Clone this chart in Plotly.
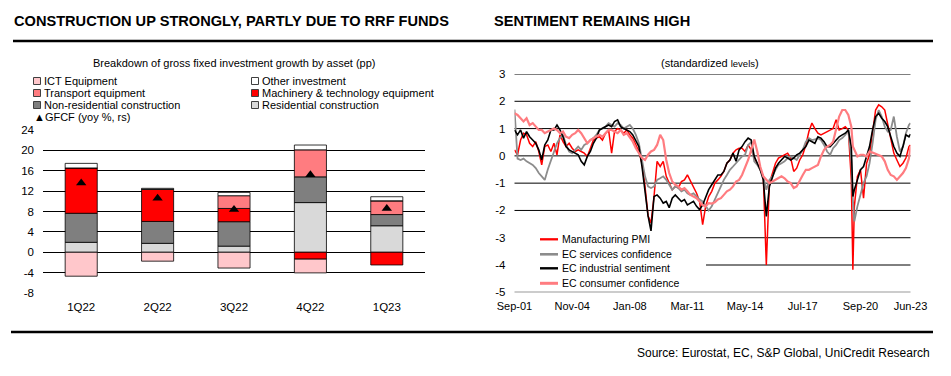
import pandas as pd
import plotly.graph_objects as go

W, H = 951, 376
FONT = "Liberation Sans, Arial, sans-serif"

# ---------------- Left chart data (pp contributions) ----------------
quarters = ["1Q22", "2Q22", "3Q22", "4Q22", "1Q23"]
residential = [1.95, 1.75, 1.2, 9.75, 5.2]
non_residential = [5.7, 4.3, 4.8, 5.05, 2.2]
machinery = [8.9, 6.3, 2.6, -1.35, -2.5]
transport = [0.0, 0.0, 2.5, 5.3, 2.7]
ict = [-4.7, -1.75, -3.1, -2.7, 0.0]
other_investment = [0.9, 0.2, 0.65, 0.95, 0.8]
gfcf_yoy = [13.6, 10.6, 8.4, 15.2, 8.6]
left_yticks = [-8, -4, 0, 4, 8, 12, 16, 20, 24]

# ---------------- Right chart data (standardized levels) ----------------
dates = (list(pd.date_range("2001-09-01", "2020-03-01", freq="2MS"))
         + [pd.Timestamp("2020-04-01")]
         + list(pd.date_range("2020-05-01", "2023-05-01", freq="2MS"))
         + [pd.Timestamp("2023-06-01")])

manufacturing_pmi = [
    0.22, 0.04, 0.58, 0.83, 0.77, 0.46,
    0.34, 0.52, 0.16, -0.33, 0.34, 0.40,
    0.16, 0.46, 0.04, 0.77, 0.52, 0.34,
    0.46, 0.28, 0.16, 0.22, 0.16, 0.10,
    -0.02, 0.28, 0.58, 0.65, 0.70, 0.58,
    0.83, 0.95, 0.10, 0.90, 1.00, 0.95,
    0.83, 0.95, 0.77, 0.65, 0.40, 0.16,
    -0.27, -1.12, -2.20, -2.46, -1.49, -0.20,
    -0.39, -0.20, -0.75, -1.00, -1.24, -1.12,
    -1.18, -0.94, -0.88, -0.70, -0.94, -1.12,
    -1.37, -1.67, -2.52, -1.85, -1.49, -1.30,
    -1.00, -0.88, -0.75, -0.57, -0.27, -0.15,
    0.10, 0.22, 0.28, 0.28, 0.16, 0.40,
    0.22, -0.06, -0.27, -0.51, -0.75, -4.00,
    -1.00, -0.63, -0.27, -0.08, -0.02, 0.04,
    0.10, -0.08, -0.57, -0.45, -0.15, 0.04,
    0.40, 0.89, 1.20, 1.00, 0.83, 0.77,
    0.83, 0.89, 0.95, 1.00, 1.32, 0.95,
    1.00, 1.07, 0.95,
    -0.88, -4.17,
    -1.85, -0.75, -0.51, -1.55, -0.27, 0.04, 0.95, 1.68, 1.87, 1.80,
    1.68, 1.20, 0.65, 0.10, -0.15, -0.39, -0.27, -0.08, 0.34,
    0.40,
]
ec_services = [
    1.70, -0.10, -0.15, -0.10, -0.20, -0.27,
    -0.33, -0.45, -0.63, -0.75, -0.88, -0.50,
    -0.20, 0.16, 0.46, 0.65, 0.77, 0.40,
    0.16, 0.10, 0.22, 0.34, 0.22, 0.40,
    0.46, 0.58, 0.65, 0.77, 0.95, 1.00,
    1.07, 1.20, 1.13, 1.07, 1.20, 1.13,
    1.00, 1.07, 1.13, 1.00, 0.77, 0.46,
    -0.15, -0.75, -1.12, -1.18, -1.12, -0.88,
    -0.82, -0.75, -0.88, -1.06, -1.24, -1.12,
    -1.18, -1.30, -1.24, -1.37, -1.43, -1.37,
    -1.49, -1.60, -1.67, -1.85, -2.00, -1.85,
    -1.60, -1.37, -1.12, -0.88, -0.70, -0.51,
    -0.39, -0.27, -0.15, -0.02, 0.04, 0.40,
    0.50, -0.20, -0.33, -0.51, -0.75, -1.24,
    -0.88, -0.75, -0.51, -0.33, -0.27, -0.20,
    -0.08, -0.02, -0.08, -0.15, 0.04, 0.22,
    0.52, 0.65, 0.58, 0.60, 0.65, 0.58,
    0.40, 0.16, 0.04, 0.28, 0.40, 0.58,
    0.65, 0.77, 0.95,
    -0.15, -1.60,
    -2.40, -1.85, -1.37, -1.00, -0.75, -0.27, 0.46, 1.32, 1.68, 1.44,
    1.07, 0.89, 0.95, 1.44, 0.70, 0.16, 0.34, 0.83, 1.13,
    1.20,
]
ec_industrial = [
    0.95, 0.77, 0.95, 0.65, 0.89, 0.70,
    0.58, 0.46, 0.22, -0.15, 0.40, 0.58,
    0.95, 0.95, 1.13, 0.95, 0.70, 0.34,
    0.22, 0.16, 0.10, 0.04, -0.20, -0.33,
    -0.02, 0.16, 0.46, 0.65, 0.95, 1.00,
    1.07, 1.13, 1.07, 1.26, 1.32, 1.07,
    1.00, 0.95, 0.89, 0.77, 0.58, 0.34,
    -0.39, -1.37, -2.20, -2.75, -1.49, -1.43,
    -1.55, -1.73, -1.67, -1.90, -1.55, -1.43,
    -1.55, -1.67, -1.60, -1.80, -1.73, -1.67,
    -1.85, -1.97, -1.80, -1.49, -1.24, -1.06,
    -0.88, -0.70, -0.70, -0.57, -0.27, -0.15,
    0.10, -0.20, 0.22, 0.34, 0.52, 0.65,
    0.58, -0.02, -0.27, -0.51, -0.88, -2.22,
    -1.12, -0.75, -0.45, -0.27, -0.15, -0.02,
    -0.08, -0.15, -0.08, 0.04, 0.10, 0.22,
    0.34, 0.58, 0.52, 0.46, 0.70, 0.65,
    0.52, 0.34, 0.34, 0.46, 0.58, 0.70,
    0.77, 0.83, 0.95,
    0.34, -1.49,
    -1.24, -0.88, -0.51, -0.39, -0.02, 0.34, 0.95, 1.44, 1.56, 1.38,
    1.26, 1.07, 0.70, 0.34, 0.10, -0.02, 0.34, 0.77, 0.70,
    0.80,
]
ec_consumer = [
    1.56, 1.50, 1.38, 1.26, 1.38, 1.13,
    1.20, 1.07, 0.95, 0.95, 0.83, 0.89,
    0.95, 1.00, 0.95, 0.83, 0.89, 0.70,
    0.65, 0.77, 0.83, 0.95, 0.83, 0.65,
    0.46, 0.58, 0.65, 0.70, 0.77, 0.70,
    0.83, 0.95, 0.95, 0.89, 0.83, 0.95,
    0.77, 0.83, 0.65, 0.52, 0.28, 0.10,
    -0.08, -0.15, 0.04, 0.16, 0.22, 0.40,
    0.77, 0.58, -0.15, -0.63, -0.94, -1.06,
    -1.12, -1.24, -1.18, -1.30, -1.43, -1.49,
    -1.55, -1.67, -1.80, -1.85, -1.73, -1.75,
    -1.70, -1.60, -1.55, -1.43, -1.30, -1.24,
    -1.12, -0.94, -0.88, -0.70, -0.45, -0.15,
    0.22, 0.60, 0.16, -0.39, -0.75, -0.88,
    -1.00, -0.94, -0.88, -0.82, -0.75, -0.82,
    -0.94, -1.00, -1.18, -1.12, -0.88, -0.70,
    -0.51, -0.51, -0.45, -0.39, -0.33, -0.02,
    0.22, 0.34, 0.40, 0.52, 0.95, 1.44,
    1.68, 1.68, 1.50,
    1.07, 0.34,
    0.22, -0.02, 0.04, 0.04, -0.02, 0.16, 0.12, 0.07, 0.04, -0.02,
    -0.20, -0.51, -0.70, -0.75, -0.88, -0.75, -0.63, -0.45, -0.10,
    0.35,
]
right_yticks = [-5, -4, -3, -2, -1, 0, 1, 2, 3]
right_tick_dates = ["2001-09-01", "2004-11-01", "2008-01-01", "2011-03-01",
                    "2014-05-01", "2017-07-01", "2020-09-01", "2023-06-01"]
right_tick_labels = ["Sep-01", "Nov-04", "Jan-08", "Mar-11",
                     "May-14", "Jul-17", "Sep-20", "Jun-23"]

# ---------------- colours ----------------
C_ICT = "#FFC7CB"
C_OTHER = "#FFFFFF"
C_TRANSPORT = "#FF7C80"
C_MACHINERY = "#FF0000"
C_NONRES = "#7F7F7F"
C_RESID = "#D9D9D9"


def px(x):
    return x / W


def py(y):
    return 1 - y / H


fig = go.Figure()

bar_series = [
    ("Residential construction", residential, C_RESID),
    ("Non-residential construction", non_residential, C_NONRES),
    ("Machinery & technology equipment", machinery, C_MACHINERY),
    ("Transport equipment", transport, C_TRANSPORT),
    ("ICT Equipment", ict, C_ICT),
    ("Other investment", other_investment, C_OTHER),
]
for name, vals, col in bar_series:
    fig.add_trace(go.Bar(
        x=quarters, y=vals, name=name, width=0.42,
        marker=dict(color=col, line=dict(color="black", width=0.8)),
        xaxis="x", yaxis="y", showlegend=False, hoverinfo="skip"))

fig.add_trace(go.Scatter(
    x=quarters, y=gfcf_yoy, mode="markers", name="GFCF (yoy %, rs)",
    marker=dict(symbol="triangle-up", size=9, color="black"),
    xaxis="x", yaxis="y", showlegend=False, hoverinfo="skip"))

line_series = [
    ("Manufacturing PMI", manufacturing_pmi, "#FF0000", 1.5),
    ("EC services confidence", ec_services, "#8C8C8C", 1.8),
    ("EC industrial sentiment", ec_industrial, "#000000", 1.6),
    ("EC consumer confidence", ec_consumer, "#FF7C80", 2.2),
]
for name, vals, col, wdt in line_series:
    fig.add_trace(go.Scatter(
        x=dates, y=vals, mode="lines", name=name,
        line=dict(color=col, width=wdt),
        xaxis="x2", yaxis="y2", showlegend=False, hoverinfo="skip"))

shapes = []
annotations = []

# right chart horizontal grid (the legend box hides the -3 and -4 lines on its left part)
LEGEND_BOX_RIGHT = (706 - 514.5) / 396
for v in right_yticks:
    x0 = LEGEND_BOX_RIGHT if v in (-3, -4) else 0
    shapes.append(dict(type="line", xref="x2 domain", yref="y2",
                       x0=x0, x1=1, y0=v, y1=v,
                       line=dict(color="black", width=1), layer="below"))

# header / footer rules
shapes.append(dict(type="line", xref="paper", yref="paper",
                   x0=px(13), x1=px(933), y0=py(41), y1=py(41),
                   line=dict(color="black", width=2.5)))
shapes.append(dict(type="line", xref="paper", yref="paper",
                   x0=px(11), x1=px(933), y0=py(332), y1=py(332),
                   line=dict(color="black", width=2.5)))

annotations.append(dict(text="<b>CONSTRUCTION UP STRONGLY, PARTLY DUE TO RRF FUNDS</b>",
                        x=px(12), y=py(21), xref="paper", yref="paper",
                        xanchor="left", yanchor="middle", showarrow=False,
                        font=dict(family=FONT, size=14.6, color="black")))
annotations.append(dict(text="<b>SENTIMENT REMAINS HIGH</b>",
                        x=px(492), y=py(21), xref="paper", yref="paper",
                        xanchor="left", yanchor="middle", showarrow=False,
                        font=dict(family=FONT, size=14.6, color="black")))
annotations.append(dict(text="Source: Eurostat, EC, S&P Global, UniCredit Research",
                        x=px(932), y=py(353), xref="paper", yref="paper",
                        xanchor="right", yanchor="middle", showarrow=False,
                        font=dict(family=FONT, size=12, color="black")))
annotations.append(dict(text="Breakdown of gross fixed investment growth by asset (pp)",
                        x=px(234), y=py(63), xref="paper", yref="paper",
                        xanchor="center", yanchor="middle", showarrow=False,
                        font=dict(family=FONT, size=11, color="black")))
annotations.append(dict(text="(standardized <span style='font-size:9.5px'>levels</span>)",
                        x=px(710), y=py(63), xref="paper", yref="paper",
                        xanchor="center", yanchor="middle", showarrow=False,
                        font=dict(family=FONT, size=11, color="black")))

# left legend (manual, two columns)
left_legend = [
    ("ICT Equipment", C_ICT, 37, 81),
    ("Other investment", C_OTHER, 255, 81),
    ("Transport equipment", C_TRANSPORT, 37, 93),
    ("Machinery & technology equipment", C_MACHINERY, 255, 93),
    ("Non-residential construction", C_NONRES, 37, 105),
    ("Residential construction", C_RESID, 255, 105),
]
for label, col, cx, cy in left_legend:
    shapes.append(dict(type="rect", xref="paper", yref="paper",
                       x0=px(cx - 3.5), x1=px(cx + 3.5), y0=py(cy + 3.5), y1=py(cy - 3.5),
                       fillcolor=col, line=dict(color="#404040", width=1)))
    annotations.append(dict(text=label, x=px(cx + 5), y=py(cy), xref="paper", yref="paper",
                            xanchor="left", yanchor="middle", showarrow=False,
                            font=dict(family=FONT, size=11, color="black")))
annotations.append(dict(text="▲GFCF (yoy %, rs)", x=px(32), y=py(117), xref="paper", yref="paper",
                        xanchor="left", yanchor="middle", showarrow=False,
                        font=dict(family=FONT, size=11, color="black")))

# right legend (manual)
right_rows = [239.3, 254.3, 268.3, 283.3]
for (name, vals, col, wdt), ry in zip(line_series, right_rows):
    shapes.append(dict(type="line", xref="paper", yref="paper",
                       x0=px(540), x1=px(558), y0=py(ry), y1=py(ry),
                       line=dict(color=col, width=wdt + 0.8)))
    annotations.append(dict(text=name, x=px(560), y=py(ry), xref="paper", yref="paper",
                            xanchor="left", yanchor="middle", showarrow=False,
                            font=dict(family=FONT, size=10.5, color="black")))

fig.update_layout(
    width=W, height=H, autosize=False,
    margin=dict(l=0, r=0, t=0, b=0, pad=0, autoexpand=False),
    paper_bgcolor="white", plot_bgcolor="white",
    barmode="relative",
    showlegend=False,
    hovermode=False,
    font=dict(family=FONT, size=11, color="black"),
    shapes=shapes, annotations=annotations,
    xaxis=dict(domain=[px(43), px(425)], type="category", anchor="y",
               showgrid=False, showline=False, zeroline=False, ticks="",
               tickfont=dict(size=11.5), ticklabelstandoff=5, automargin=False),
    yaxis=dict(domain=[py(293), py(130)], range=[-8, 24], anchor="x",
               tickvals=left_yticks, ticktext=[str(v) for v in left_yticks],
               showgrid=True, gridcolor="black", gridwidth=1,
               zeroline=False, showline=False, ticks="",
               tickfont=dict(size=11.5), ticklabelstandoff=8, automargin=False),
    xaxis2=dict(domain=[px(514.5), px(910.5)], type="date", anchor="y2",
                range=["2001-09-01", "2023-06-01"],
                tickvals=right_tick_dates, ticktext=right_tick_labels,
                showgrid=False, showline=False, zeroline=False, ticks="",
                tickfont=dict(size=11), ticklabelstandoff=6, automargin=False),
    yaxis2=dict(domain=[py(292.3), py(74)], range=[-5, 3], anchor="x2",
                tickvals=right_yticks, ticktext=[str(v) for v in right_yticks],
                showgrid=False, zeroline=False, showline=False, ticks="",
                tickfont=dict(size=11.5), ticklabelstandoff=8, automargin=False),
)

# remove the default page margin so the figure fills the window exactly
fig.write_html(
    "out.html",
    config={"displayModeBar": False, "responsive": False},
    post_script="document.documentElement.style.margin='0';"
                "document.body.style.margin='0';"
                "document.body.style.overflow='hidden';",
)
